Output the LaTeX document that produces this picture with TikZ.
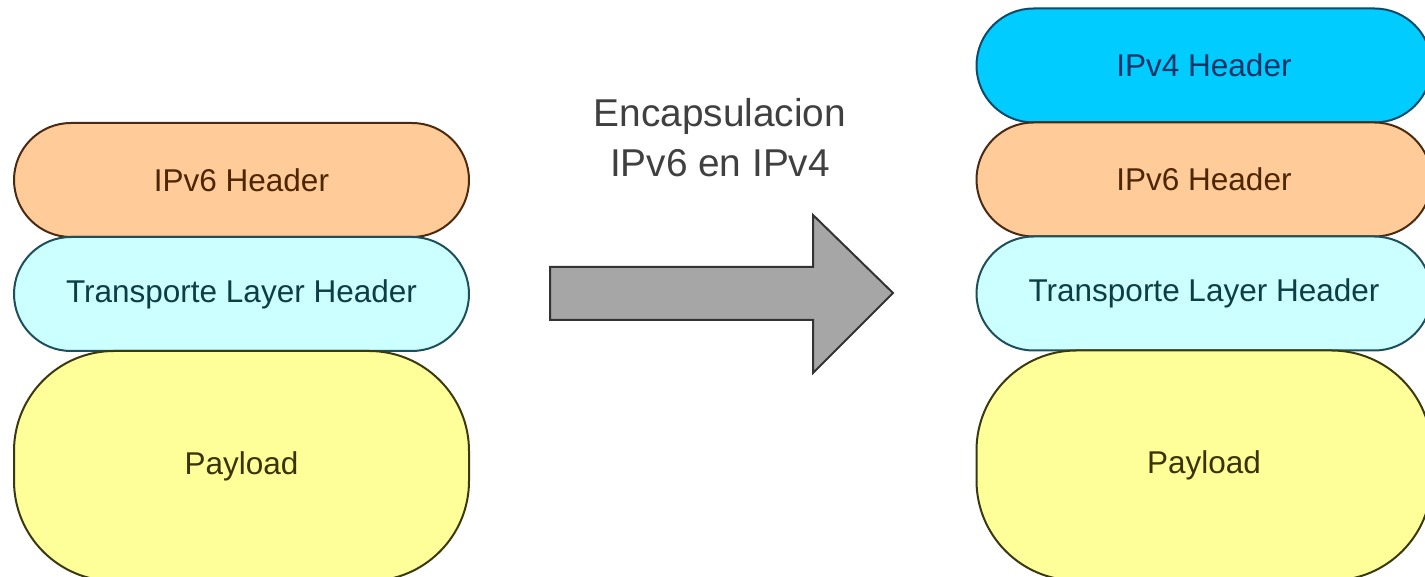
\documentclass[tikz,border=0pt]{standalone}
\usepackage{fontspec}
\setmainfont{Liberation Sans}
\usetikzlibrary{positioning}
\definecolor{peach}{HTML}{FFCC99}
\definecolor{peachline}{HTML}{4A2A10}
\definecolor{peachtext}{HTML}{4D2600}
\definecolor{aqua}{HTML}{CCFFFF}
\definecolor{aqualine}{HTML}{1F4F5A}
\definecolor{aquatext}{HTML}{0D3D45}
\definecolor{lemon}{HTML}{FFFF99}
\definecolor{lemonline}{HTML}{3A3A10}
\definecolor{lemontext}{HTML}{3A3300}
\definecolor{sky}{HTML}{00CCFF}
\definecolor{skyline}{HTML}{0A4A6A}
\definecolor{skytext}{HTML}{003366}
\tikzset{hdr/.style={draw,rectangle,rounded corners=28.5pt,minimum width=227.5pt,minimum height=57pt,line width=1pt,outer sep=0pt,inner sep=0pt,font=\fontsize{15.75}{18}\selectfont},
  pay/.style={hdr,rounded corners=50pt,minimum height=115pt},
  v6/.style={fill=peach,draw=peachline,text=peachtext},
  tr/.style={fill=aqua,draw=aqualine,text=aquatext},
  pl/.style={fill=lemon,draw=lemonline,text=lemontext},
  v4/.style={fill=sky,draw=skyline,text=skytext}}

\begin{document}
\begin{tikzpicture}[x=0.5pt,y=0.5pt]
          \useasboundingbox (0,0) rectangle (1425,577);
          \clip (0,0) rectangle (1425,577);

          % original packet
          \node (v6L) [hdr,v6] at (241.5,397) {IPv6 Header};
          \node (trL) [hdr,tr,below=0pt of v6L] {Transporte Layer Header};
          \node (payL) [pay,pl,below=0pt of trL] {Payload};

          % encapsulated packet
          \node (v4R) [hdr,v4] at (1204,511.5) {IPv4 Header};
          \node (v6R) [hdr,v6,below=0pt of v4R] {IPv6 Header};
          \node (trR) [hdr,tr,below=0pt of v6R] {Transporte Layer Header};
          \node (payR) [pay,pl,below=0pt of trR] {Payload};

          % arrow + caption
          \node (enc) [align=center,text=black!75,font=\fontsize{19.4}{25}\selectfont] at (720,439) {Encapsulacion\\IPv6 en IPv4};
          \draw[line width=1pt,draw=black!80,fill=black!35] (550,310) -- (813,310) -- (813,362) -- (893,284) -- (813,204) -- (813,257) -- (550,257) -- cycle;

        \end{tikzpicture}
\end{document}
